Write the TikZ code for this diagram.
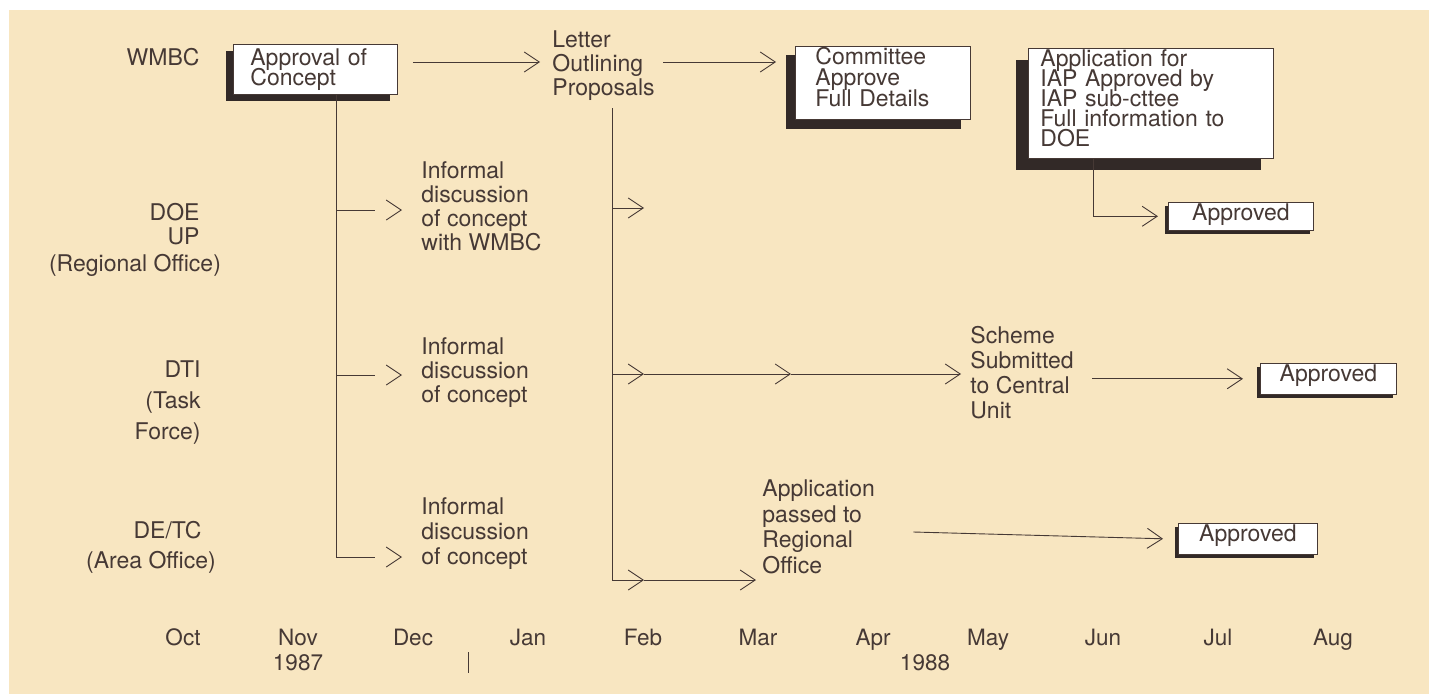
\documentclass[tikz,border=0pt]{standalone}
\usepackage{fontspec}
\setmainfont{TeX Gyre Heros}
\usetikzlibrary{arrows.meta,shadows,positioning}
\definecolor{paper}{RGB}{248,230,193}
\definecolor{ink}{RGB}{70,57,53}
\definecolor{shade}{RGB}{50,41,39}
\newcommand\tightlines{\lineskiplimit=-50pt\relax}
\newcommand\boxpad[1]{\rule[-#1]{0pt}{0pt}}

\begin{document}
\begin{tikzpicture}[x=1pt,y=-1pt,color=ink,line width=0.9pt,
    font={\fontsize{23pt}{24pt}\selectfont\tightlines},
    box node/.style={draw=ink,fill=white,line width=0.8pt,align=left,anchor=north west,
      inner ysep=1pt,font={\fontsize{23pt}{20pt}\selectfont\tightlines},
      drop shadow={shadow xshift=-#1,shadow yshift=-#1,fill=shade,opacity=1}},
    box node/.default=3.5pt,
    text node/.style={align=left,anchor=west,inner sep=0pt},
    side node/.style={align=right,anchor=east,inner sep=0pt},
    month node/.style={anchor=base,inner sep=0pt,font={\fontsize{22.5pt}{24pt}\selectfont}},
    flow/.style={-{Straight Barb[length=15pt,width=20pt]}},
    gap flow/.style={flow,dash pattern=on 39pt off 80pt}]

  \fill[white] (0,0) rectangle (1434,694);
  \fill[paper] (9,10) rectangle (1429,694);

  % who
  \node[side node] (wmbc) at (200,57) {WMBC};
  \node[side node] (doe) at (200,224) {DOE\\UP};
  \node[side node,anchor=center] (doereg) at (135,265) {(Regional Office)};
  \node[side node,font={\fontsize{23pt}{31pt}\selectfont}] (dti) at (201,403) {DTI\\(Task\\Force)};
  \node[side node] (dtc) at (202,530) {DE/TC};
  \node[side node,anchor=center] (dtcarea) at (151,562) {(Area Office)};

  % boxes
  \node[box node=7pt,inner xsep=17pt,inner ysep=2pt,text width=130pt,minimum height=50pt] (concept) at (233,44) {Approval of\\Concept};
  \node[box node=9pt,inner xsep=20pt,text width=135pt,font={\fontsize{23pt}{21pt}\selectfont\tightlines}] (committee) at (795,46) {Committee\\Approve\\Full Details\boxpad{12pt}};
  \node[box node=12pt,inner xsep=12pt,text width=221pt] (iap) at (1028,48) {Application for\\IAP Approved by\\IAP sub-cttee\\Full information to\\DOE\boxpad{11pt}};
  \node[box node,align=center,minimum width=145pt] (ok1) at (1168,202) {Approved\boxpad{9pt}};
  \node[box node,align=center,minimum width=136pt] (ok2) at (1260,363) {Approved\boxpad{12pt}};
  \node[box node,align=center,minimum width=139pt] (ok3) at (1178,523) {Approved\boxpad{12pt}};

  % steps
  \node[text node] (letter) at (552,66) {Letter\\Outlining\\Proposals};
  \node[text node] (infdoe) at (421,206) {Informal\\discussion\\of concept\\with WMBC};
  \node[text node] (infdti) at (421,373) {Informal\\discussion\\of concept};
  \node[text node,font={\fontsize{23pt}{25pt}\selectfont}] (infdtc) at (421,534) {Informal\\discussion\\of concept};
  \node[text node,font={\fontsize{23pt}{25pt}\selectfont}] (scheme) at (970,373) {Scheme\\Submitted\\to Central\\Unit};
  \node[text node,font={\fontsize{23pt}{25.5pt}\selectfont}] (passed) at (762,527) {Application\\passed to\\Regional\\Office};

  % time axis
  \foreach \m [count=\i from 0] in {Oct,Nov,Dec,Jan,Feb,Mar,Apr,May,Jun,Jul,Aug}
    \node[month node] (m\i) at ({183+115*\i},645) {\m};
  \node[month node] (y87) at (298,670) {1987};
  \node[month node] (y88) at (925,670) {1988};
  \draw[line width=0.7pt] (468,652) -- (468,673);

  \coordinate (v1) at ([xshift=21pt]concept.south);
  \coordinate (v2) at (612,108);
  \coordinate (p1) at (644,208);
  \coordinate (p2) at (644,374);
  \coordinate (p3) at (791,374);
  \coordinate (p4) at (644,580);

  \draw[flow] ([xshift=15pt]concept.east |- 0,62) -- ([xshift=-12pt]letter.west |- 0,62);
  \draw[flow] ([xshift=8pt]letter.east |- 0,62) -- ([xshift=-19pt]committee.west |- 0,62);

  \draw (v1) -- (v1 |- 0,557);
  \draw[gap flow] (v1 |- 0,210) -- ([xshift=-19pt]infdoe.west |- 0,210);
  \draw[gap flow] (v1 |- 0,375) -- ([xshift=-19pt]infdti.west |- 0,375);
  \draw[gap flow] (v1 |- 0,557) -- ([xshift=-19pt]infdtc.west |- 0,557);

  \draw (v2) -- (v2 |- p4);
  \draw[flow] (v2 |- p1) -- (p1);
  \draw[flow] (v2 |- p2) -- (p2);
  \draw[flow] (p2) -- (p3);
  \draw[flow] (p3) -- ([xshift=-9pt]scheme.west |- p3);
  \draw[flow] (v2 |- p4) -- (p4);
  \draw[flow] (p4) -- ([xshift=-6pt]passed.west |- p4);

  \draw[flow] ([xshift=18pt]scheme.east |- ok2.west) -- ([xshift=-17pt]ok2.west);
  \draw[flow] ([xshift=38pt]passed.east |- 0,532) -- ([xshift=-15pt]ok3.west);
  \draw[flow] ([xshift=-57pt]iap.south) |- ([xshift=-10pt]ok1.west);

\end{tikzpicture}
\end{document}
